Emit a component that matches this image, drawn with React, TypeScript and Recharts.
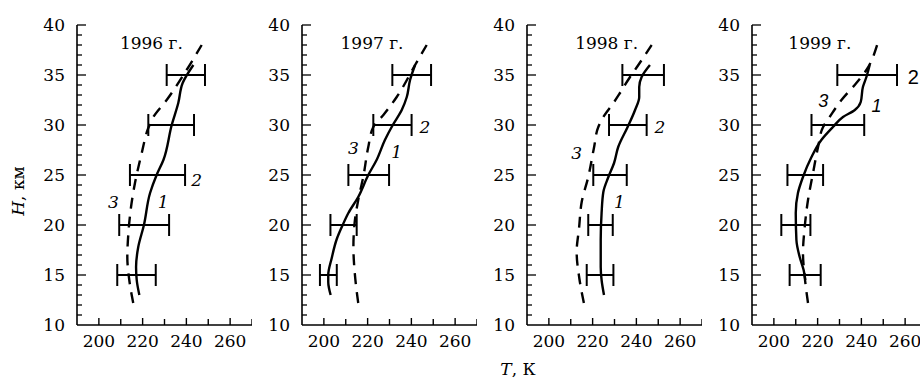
import React from 'react';
import { ComposedChart, Line, Scatter, ErrorBar, XAxis, YAxis, ReferenceDot } from 'recharts';

const years = ['1996 г.', '1997 г.', '1998 г.', '1999 г.'];
const yearLabelT = [224, 222, 226.4, 221];
const yearLabelH = [38.2, 38.2, 38.2, 38.2];

const xTicks = [190, 200, 210, 220, 230, 240, 250, 260, 270];
const xLabelTicks = [200, 220, 240, 260];
const yTicks = [10, 11, 12, 13, 14, 15, 16, 17, 18, 19, 20, 21, 22, 23, 24, 25, 26, 27, 28, 29, 30, 31, 32, 33, 34, 35, 36, 37, 38, 39, 40];

const errHeights = [15, 20, 25, 30, 35];

// Curve 1 (solid)
const solidH1996 = [13, 14.5, 15.8, 17.8, 20, 23.2, 25, 26.5, 30, 32.2, 34.2, 36];
const solidT1996 = [218.5, 217.3, 217, 218, 220.6, 223.4, 226.4, 229.5, 233.3, 236.3, 238.3, 243.2];
const solidH1997 = [13, 14.3, 15, 16.7, 18.6, 20, 21.2, 22.8, 25, 26.5, 28.5, 30, 31.5, 32.8, 34.5, 36];
const solidT1997 = [203.1, 202, 202, 203.6, 205.9, 208.6, 211.2, 215.7, 220.3, 224.1, 227.9, 231.5, 235.6, 237.9, 239.4, 241.7];
const solidH1998 = [13, 14.5, 15.8, 18.5, 21.2, 23.3, 24.8, 26.2, 27.8, 29.8, 31.5, 32.8, 33.8, 34.8, 36];
const solidT1998 = [225.2, 224.1, 223.7, 223.7, 224.1, 224.9, 227.2, 229.8, 231.7, 236, 239.4, 241.3, 241.3, 242.4, 246.2];
const solidH1999 = [14.5, 15.5, 16.8, 18.5, 21.2, 23.2, 24.8, 26.8, 28.5, 29.8, 30.8, 31.5, 32.3, 33.8, 34.8, 36];
const solidT1999 = [214.4, 213.6, 211.8, 210.3, 210, 211, 213.3, 217.2, 221.7, 227, 231.6, 237, 239.7, 240.7, 242.3, 243.8];

// Curve 3 (dashed)
const dashH1996 = [12.2, 14.5, 16.8, 19.2, 21.8, 24.2, 27.2, 29.7, 30.8, 32.5, 35.5, 38];
const dashT1996 = [215.7, 213.9, 213, 213.5, 214.7, 216.5, 219.6, 222.6, 224.9, 231, 240.1, 247];
const dashH1997 = [12.2, 15, 17.8, 20.5, 22.5, 24.8, 27.8, 29.8, 31, 32.8, 36, 38];
const dashT1997 = [215.7, 214.2, 213.5, 214.2, 215.7, 218, 220.3, 222.6, 227.2, 233.3, 241.7, 247];
const dashH1998 = [12.2, 14.7, 17.3, 19.7, 22.3, 24.8, 27.7, 29.8, 30.8, 32.2, 33.2, 34.8, 36, 38];
const dashT1998 = [216, 213.9, 212.7, 213.8, 215, 218, 220.6, 222.6, 224.9, 229.5, 232.5, 237.1, 240.9, 247];
const dashH1999 = [12.2, 14.8, 17.2, 19.8, 22.5, 25.2, 27.8, 29.8, 30.8, 32.5, 34.2, 35.5, 38];
const dashT1999 = [215.6, 214.1, 213.3, 214.1, 215.6, 217.9, 220.2, 222.5, 225.5, 230.9, 237.7, 242.3, 247.2];

// Curve 2 (error bars): left and right ends at errHeights
const errLow1996 = [208.4, 209.3, 214.2, 222.6, 231];
const errHigh1996 = [226, 232.1, 239.4, 243.5, 248.5];
const errLow1997 = [198.2, 203, 211.2, 222.6, 231.3];
const errHigh1997 = [205.9, 215, 229.8, 240.1, 249];
const errLow1998 = [217.3, 218, 220.3, 227.5, 233.6];
const errHigh1998 = [229.5, 229.2, 235.6, 244.7, 252.6];
const errLow1999 = [207.2, 203.4, 206.2, 217.2, 229];
const errHigh1999 = [221.4, 216.7, 222.5, 241.3, 256.3];

// Curve number labels: [T, H]
const curveLabels = ['1', '2', '3'];
const labelT1996 = [229.4, 244.7, 206.6];
const labelH1996 = [22.3, 24.5, 22.3];
const labelT1997 = [233.3, 246.2, 213.5];
const labelH1997 = [27.3, 29.8, 27.7];
const labelT1998 = [232.2, 250.8, 212.7];
const labelH1998 = [22.3, 29.8, 27.2];
const labelT1999 = [246.9, 263.7, 222.6];
const labelH1999 = [32, 34.8, 32.5];

const zip = (H: number[], T: number[]) => H.map((h, i) => ({ H: h, T: T[i] }));
const errData = (lo: number[], hi: number[]) =>
  errHeights.map((h, i) => {
    const c = (lo[i] + hi[i]) / 2;
    return { H: h, T: c, err: [c - lo[i], hi[i] - c] };
  });

const panels = [
  { solid: zip(solidH1996, solidT1996), dashed: zip(dashH1996, dashT1996), err: errData(errLow1996, errHigh1996), lT: labelT1996, lH: labelH1996 },
  { solid: zip(solidH1997, solidT1997), dashed: zip(dashH1997, dashT1997), err: errData(errLow1997, errHigh1997), lT: labelT1997, lH: labelH1997 },
  { solid: zip(solidH1998, solidT1998), dashed: zip(dashH1998, dashT1998), err: errData(errLow1998, errHigh1998), lT: labelT1998, lH: labelH1998 },
  { solid: zip(solidH1999, solidT1999), dashed: zip(dashH1999, dashT1999), err: errData(errLow1999, errHigh1999), lT: labelT1999, lH: labelH1999 },
];

const FONT = '"DejaVu Serif", serif';
const SANS = '"Liberation Sans", Arial, sans-serif';

function XTick(props: any) {
  const { x, y, payload } = props;
  const v = payload.value;
  const lab = xLabelTicks.includes(v);
  return (
    <g>
      {v !== 190 && <line x1={x} y1={y} x2={x} y2={y - (lab ? 7 : 6)} stroke="#000" strokeWidth={1.4} />}
      {lab && (
        <text x={x} y={y + 22} textAnchor="middle" fontFamily={FONT} fontSize={17} fill="#000">
          {v}
        </text>
      )}
    </g>
  );
}

function YTick(props: any) {
  const { x, y, payload } = props;
  const v = payload.value;
  const major = v % 5 === 0;
  return (
    <g>
      {v !== 10 && <line x1={x} y1={y} x2={x + (major ? 9 : 5)} y2={y} stroke="#000" strokeWidth={1.3} />}
      {major && (
        <text x={x - 12} y={y + 6} textAnchor="end" fontFamily={FONT} fontSize={17} fill="#000">
          {v}
        </text>
      )}
    </g>
  );
}

const NoShape = () => <g />;

function Panel({ idx }: { idx: number }) {
  const p = panels[idx];
  const sans = idx === 3;
  return (
    <div style={{ position: 'absolute', left: idx * 225, top: 0 }}>
      <ComposedChart width={252} height={355} layout="vertical" margin={{ top: 25, right: 0, bottom: 0, left: 0 }}>
        <XAxis
          type="number"
          dataKey="T"
          domain={[190, 270]}
          ticks={xTicks}
          interval={0}
          tickSize={0}
          tickMargin={0}
          tick={<XTick />}
          tickLine={false}
          axisLine={{ stroke: '#000', strokeWidth: 1.6 }}
          height={30}
          allowDataOverflow
        />
        <YAxis
          type="number"
          dataKey="H"
          domain={[10, 40]}
          ticks={yTicks}
          interval={0}
          reversed
          tickSize={0}
          tickMargin={0}
          tick={<YTick />}
          tickLine={false}
          axisLine={{ stroke: '#000', strokeWidth: 1.6 }}
          width={77}
          allowDataOverflow
        />
        <Line
          data={p.dashed}
          dataKey="T"
          type="monotone"
          stroke="#000"
          strokeWidth={2.4}
          strokeDasharray="11 8"
          dot={false}
          activeDot={false}
          isAnimationActive={false}
        />
        <Line
          data={p.solid}
          dataKey="T"
          type="monotone"
          stroke="#000"
          strokeWidth={2.4}
          dot={false}
          activeDot={false}
          isAnimationActive={false}
        />
        <Scatter data={p.err} shape={<NoShape />} isAnimationActive={false}>
          <ErrorBar dataKey="err" direction="x" width={11} strokeWidth={2} stroke="#000" isAnimationActive={false} />
        </Scatter>
        <ReferenceDot
          x={yearLabelT[idx]}
          y={yearLabelH[idx]}
          r={0}
          ifOverflow="visible"
          shape={(s: any) => (
            <text x={s.cx} y={s.cy + 6} textAnchor="middle" fontFamily={FONT} fontSize={17} fill="#000">
              {years[idx]}
            </text>
          )}
        />
        {curveLabels.map((c, j) => (
          <ReferenceDot
            key={c}
            x={p.lT[j]}
            y={p.lH[j]}
            r={0}
            ifOverflow="visible"
            shape={(s: any) => (
              <text
                x={s.cx}
                y={s.cy + (sans ? 7 : 6)}
                textAnchor="middle"
                fontFamily={sans ? SANS : FONT}
                fontStyle={sans && c === '2' ? 'normal' : 'italic'}
                fontSize={sans ? (c === '2' ? 20 : 18) : 17}
                fill="#000"
              >
                {c}
              </text>
            )}
          />
        ))}
      </ComposedChart>
    </div>
  );
}

export default function App() {
  return (
    <div
      style={{
        position: 'absolute',
        left: 0,
        top: 0,
        width: 920,
        height: 385,
        overflow: 'hidden',
        background: '#fff',
      }}
    >
      {panels.map((_, i) => (
        <Panel key={i} idx={i} />
      ))}
      <svg width={920} height={385} style={{ position: 'absolute', left: 0, top: 0, pointerEvents: 'none' }}>
        <text
          x={24}
          y={191}
          transform="rotate(-90 24 191)"
          textAnchor="middle"
          fontFamily={FONT}
          fontSize={17}
          fill="#000"
        >
          <tspan fontStyle="italic">H</tspan>, км
        </text>
        <text x={518} y={375} textAnchor="middle" fontFamily={FONT} fontSize={17} fill="#000">
          <tspan fontStyle="italic">T</tspan>, К
        </text>
      </svg>
    </div>
  );
}
